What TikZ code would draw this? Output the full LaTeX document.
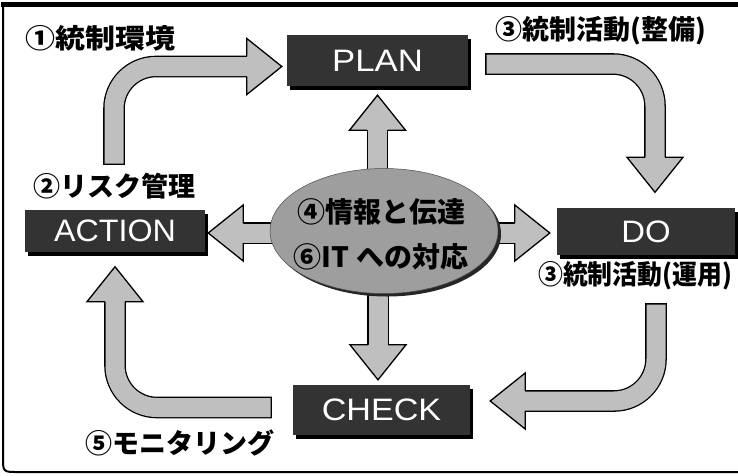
\documentclass[tikz,border=0pt]{standalone}
\usepackage{fontspec}
\usetikzlibrary{shapes.geometric,calc}
\newfontfamily\jp{Noto Sans CJK JP}
\newfontfamily\latn{Liberation Sans}
\pgfdeclarelayer{bg}
\pgfsetlayers{bg,main}
\tikzset{
  box/.style={rectangle, fill=black!80, text=white, inner sep=0pt,
    font=\latn\fontsize{31}{31}\selectfont,
    preaction={fill=black, transform canvas={shift={(3pt,-4pt)}}}},
  shaft/.style={draw=black, line width=1.3pt, double=black!25, double distance=19pt, line cap=rect},
  head/.style={fill=black!25, draw=black, line width=1.3pt, line join=miter},
  jlabel/.style={inner sep=0pt, anchor=west, font=\jp\bfseries\fontsize{27}{30}\selectfont},
  etext/.style={inner sep=0pt, font=\jp\bfseries\fontsize{28}{30}\selectfont},
  ellnode/.style={ellipse, minimum width=228pt, minimum height=125pt, inner sep=0pt,
    fill=black!38, draw=black!70, line width=0.5pt,
    preaction={fill=black!85, transform canvas={shift={(3pt,-3pt)}}}},
  frame/.style={draw=black, line width=2pt}
}
\newcommand{\bhead}[2]{\filldraw[head, shift={(#1)}, rotate=#2]
  (-35pt,-10.15pt) -- (-35pt,-28pt) -- (0pt,0pt) -- (-35pt,28pt) -- (-35pt,10.15pt);}
\begin{document}
\begin{tikzpicture}[x=1pt,y=-1pt]
\useasboundingbox (0,0) rectangle (738,475);
% frame
\draw[frame] (745,472) -- (18,472) .. controls (3,472) .. (3,457) -- (3,4);
\draw[draw=black, line width=4.5pt] (1,4.5) -- (745,4.5);

% nodes
\node[ellnode] (ell) at (384,231) {};
\node[etext] (t4) at (381,212) {④情報と伝達};
\node[etext] (t6) at (381,257) {⑥IT への対応};

\node[box, minimum width=181pt, minimum height=51pt] (plan) at (377.5,60.5) {\scalebox{1.12}[1]{PLAN}};
\node[box, minimum width=180pt, minimum height=42pt] (action) at (115,230.5) {\scalebox{1.04}[1]{ACTION}};
\node[box, minimum width=178pt, minimum height=47pt] (do) at (646,231.5) {\scalebox{1.06}[1]{DO}};
\node[box, minimum width=177pt, minimum height=50pt] (check) at (381.5,410) {\scalebox{1.1}[1]{CHECK}};

% labels
\node[jlabel] (l1) at (25,38) {\scalebox{1.11}[1]{①統制環境}};
\node[jlabel] (l3a) at (495,31) {③統制活動(整備)};
\node[jlabel] (l2) at (33,186) {②リスク管理};
\node[jlabel] (l3b) at (538,276) {\scalebox{0.92}[1]{③統制活動(運用)}};
\node[jlabel] (l5) at (85,443) {⑤モニタリング};

% tips and tails
\coordinate (tipU) at ($(plan.south)+(0,9)$);
\coordinate (tipD) at ($(check.north)+(-3.5,-5)$);
\coordinate (tipL) at ($(action.east)+(3,2.5)$);
\coordinate (tipR) at ($(do.west)+(-7,1.5)$);
\coordinate (tipA) at ($(plan.west)+(-5,6)$);
\coordinate (tipB) at ($(do.north)+(9,-15.5)$);
\coordinate (tipC) at ($(check.east)+(20,-9)$);
\coordinate (tipE) at ($(action.south)+(0,15)$);
\coordinate (tailA) at (114,154);
\coordinate (tailB) at (496,64);
\coordinate (tailC) at (656,314);
\coordinate (tailE) at (261,407.5);

\begin{pgfonlayer}{bg}
\draw[shaft] (tipU |- ell.center) -- ($(tipU)+(0,35)$);
\draw[shaft] (tipD |- ell.center) -- ($(tipD)+(0,-35)$);
\draw[shaft] (ell.center |- tipL) -- ($(tipL)+(35,0)$);
\draw[shaft] (ell.center |- tipR) -- ($(tipR)+(-35,0)$);
\draw[shaft, rounded corners=42pt] (tailA) |- ($(tipA)+(-35,0)$);
\draw[shaft, rounded corners=42pt] (tailB) -| ($(tipB)+(0,-35)$);
\draw[shaft, rounded corners=42pt] (tailC) |- ($(tipC)+(35,0)$);
\draw[shaft, rounded corners=42pt] (tailE) -| ($(tipE)+(0,35)$);
\end{pgfonlayer}

\bhead{tipU}{90}
\bhead{tipD}{-90}
\bhead{tipL}{180}
\bhead{tipR}{0}
\bhead{tipA}{0}
\bhead{tipB}{-90}
\bhead{tipC}{180}
\bhead{tipE}{90}
\end{tikzpicture}
\end{document}
